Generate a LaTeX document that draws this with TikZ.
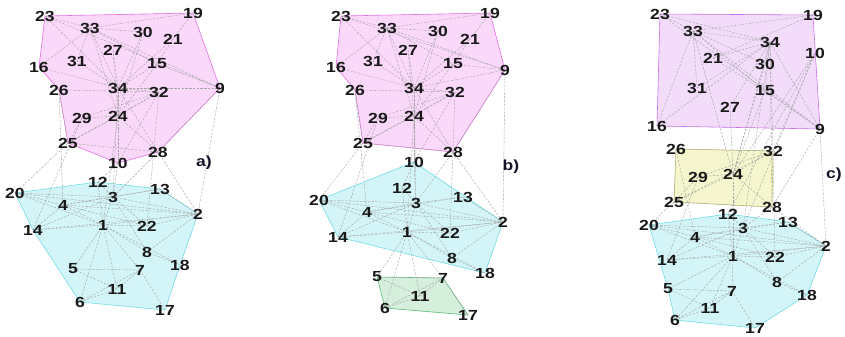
\documentclass[tikz,border=0pt]{standalone}
\usepackage{fontspec}
\usetikzlibrary{backgrounds}
\newfontfamily\lblfont[FakeStretch=1.2]{Liberation Sans Bold}
\definecolor{upFill}{RGB}{250,216,250}
\definecolor{upDraw}{RGB}{230,110,230}
\definecolor{upFillC}{RGB}{242,220,250}
\definecolor{upDrawC}{RGB}{200,110,235}
\definecolor{lowFill}{RGB}{212,245,248}
\definecolor{lowDraw}{RGB}{110,220,228}
\definecolor{grnFill}{RGB}{214,238,220}
\definecolor{grnDraw}{RGB}{90,185,120}
\definecolor{yelFill}{RGB}{246,246,206}
\definecolor{yelDraw}{RGB}{200,200,110}
\definecolor{numText}{RGB}{25,25,25}
\definecolor{tagText}{RGB}{20,20,40}
\tikzset{
    num/.style={font=\lblfont\fontsize{12.5}{14}\selectfont,text=numText,inner sep=0pt},
    tag/.style={font=\lblfont\fontsize{12.5}{14}\selectfont,text=tagText,inner sep=0pt},
    link/.style={draw=gray!70,line width=0.35pt,dash pattern=on 2pt off 1.2pt},
    region/.style={line width=0.5pt}
}
% shared edge list of the network
\def\edgelist{23/33,23/34,23/9,33/19,33/30,33/9,33/34,33/24,33/31,33/15,19/21,21/15,21/34,
    30/34,30/24,27/34,27/24,31/34,16/34,16/33,26/32,26/25,15/34,15/9,15/24,34/9,34/32,
    34/24,34/28,32/24,32/29,32/25,32/10,29/24,29/25,25/24,25/28,24/28,24/10,9/28,
    25/20,29/14,10/12,10/3,28/3,28/2,9/2,24/1,34/3,32/22,26/4,
    20/3,20/22,20/1,20/2,12/3,12/1,3/13,3/4,3/2,3/1,3/22,3/8,4/1,4/14,4/2,4/13,1/14,
    1/2,1/22,1/8,1/18,1/7,1/11,1/6,1/5,13/2,22/2,14/2,8/18,8/2,5/11,5/7,7/11,7/17,
    6/11,6/7,14/3}
\begin{document}
\begin{tikzpicture}[x=0.03cm,y=-0.03cm]
    \useasboundingbox (0,0) rectangle (845,336);

    % panel a
    \foreach \n/\x/\y in {23/45/16,19/193/13,33/90/28,30/143/32,21/173/39,27/113/50,31/77/61,
        15/157/64,16/39/67,26/59/90,34/118/88,32/159/92,9/220/88,29/82/118,24/118/116,
        25/68/143,28/158/152,10/118/163,12/98/182,20/15/193,3/113/197,13/160/189,4/63/205,
        2/198/214,1/103/225,22/147/226,14/33/230,8/147/252,18/180/265,5/73/269,7/140/270,
        11/117/289,6/80/302,17/165/310}
        \node[num] (a\n) at (\x,\y) {\n};
    \node[tag] (atag) at (204,163) {a)};

    % panel b
    \foreach \n/\x/\y in {23/341/16,19/490/13,33/387/28,30/438/31,21/470/39,27/408/50,31/373/61,
        15/453/64,16/336/67,9/505/70,26/355/90,34/414/88,32/455/92,29/378/118,24/414/116,
        25/363/143,28/453/152,10/414/162,12/402/188,20/319/200,3/416/203,13/463/197,4/367/212,
        2/503/222,1/407/232,22/450/233,14/338/237,8/452/258,18/485/273,5/377/277,7/443/278,
        11/420/296,6/385/308,17/468/315}
        \node[num] (b\n) at (\x,\y) {\n};
    \node[tag] (btag) at (511,167) {b)};

    % panel c
    \foreach \n/\x/\y in {23/660/14,19/813/15,33/693/31,34/770/42,10/815/53,21/713/58,30/765/64,
        31/697/88,15/765/91,27/730/107,16/657/126,9/820/129,26/676/149,32/773/151,29/698/177,
        24/733/174,25/674/202,28/772/207,12/728/214,20/649/225,13/788/222,3/743/228,4/695/237,
        2/826/246,1/733/256,22/775/257,14/667/260,8/777/282,18/807/295,5/668/289,7/732/291,
        11/710/308,6/675/320,17/755/328}
        \node[num] (c\n) at (\x,\y) {\n};
    \node[tag] (ctag) at (834,175) {c)};

    \begin{scope}[on background layer]
        \filldraw[region,fill=upFill,draw=upDraw] (a23.center) -- (a19.center) -- (a9.center)
            -- (a28.center) -- (a10.center) -- (a25.center) -- (a26.center) -- (a16.center) -- cycle;
        \filldraw[region,fill=lowFill,draw=lowDraw] (a20.center) -- (a12.center) -- (a13.center)
            -- (a2.center) -- (a18.center) -- (a17.center) -- (a6.center) -- (a14.center) -- cycle;
        \filldraw[region,fill=upFill,draw=upDraw] (b23.center) -- (b19.center) -- (b9.center)
            -- (b28.center) -- (b25.center) -- (b26.center) -- (b16.center) -- cycle;
        \filldraw[region,fill=lowFill,draw=lowDraw] (b20.center) -- (b10.center) -- (b2.center)
            -- (b18.center) -- (b14.center) -- cycle;
        \filldraw[region,fill=grnFill,draw=grnDraw] (b5.center) -- (b7.center) -- (b17.center)
            -- (b6.center) -- cycle;
        \filldraw[region,fill=upFillC,draw=upDrawC] (c23.center) -- (c19.center) -- (c9.center)
            -- (c16.center) -- cycle;
        \filldraw[region,fill=yelFill,draw=yelDraw] (c26.center) -- (c32.center) -- (c28.center)
            -- (c25.center) -- cycle;
        \filldraw[region,fill=lowFill,draw=lowDraw] (c20.center) -- (c12.center) -- (c13.center)
            -- (c2.center) -- (c18.center) -- (c17.center) -- (c6.center) -- (c5.center) -- cycle;
        \foreach \p in {a,b,c} {
            \foreach \u/\v in \edgelist { \draw[link] (\p\u.center) -- (\p\v.center); }
        }
    \end{scope}
\end{tikzpicture}
\end{document}
